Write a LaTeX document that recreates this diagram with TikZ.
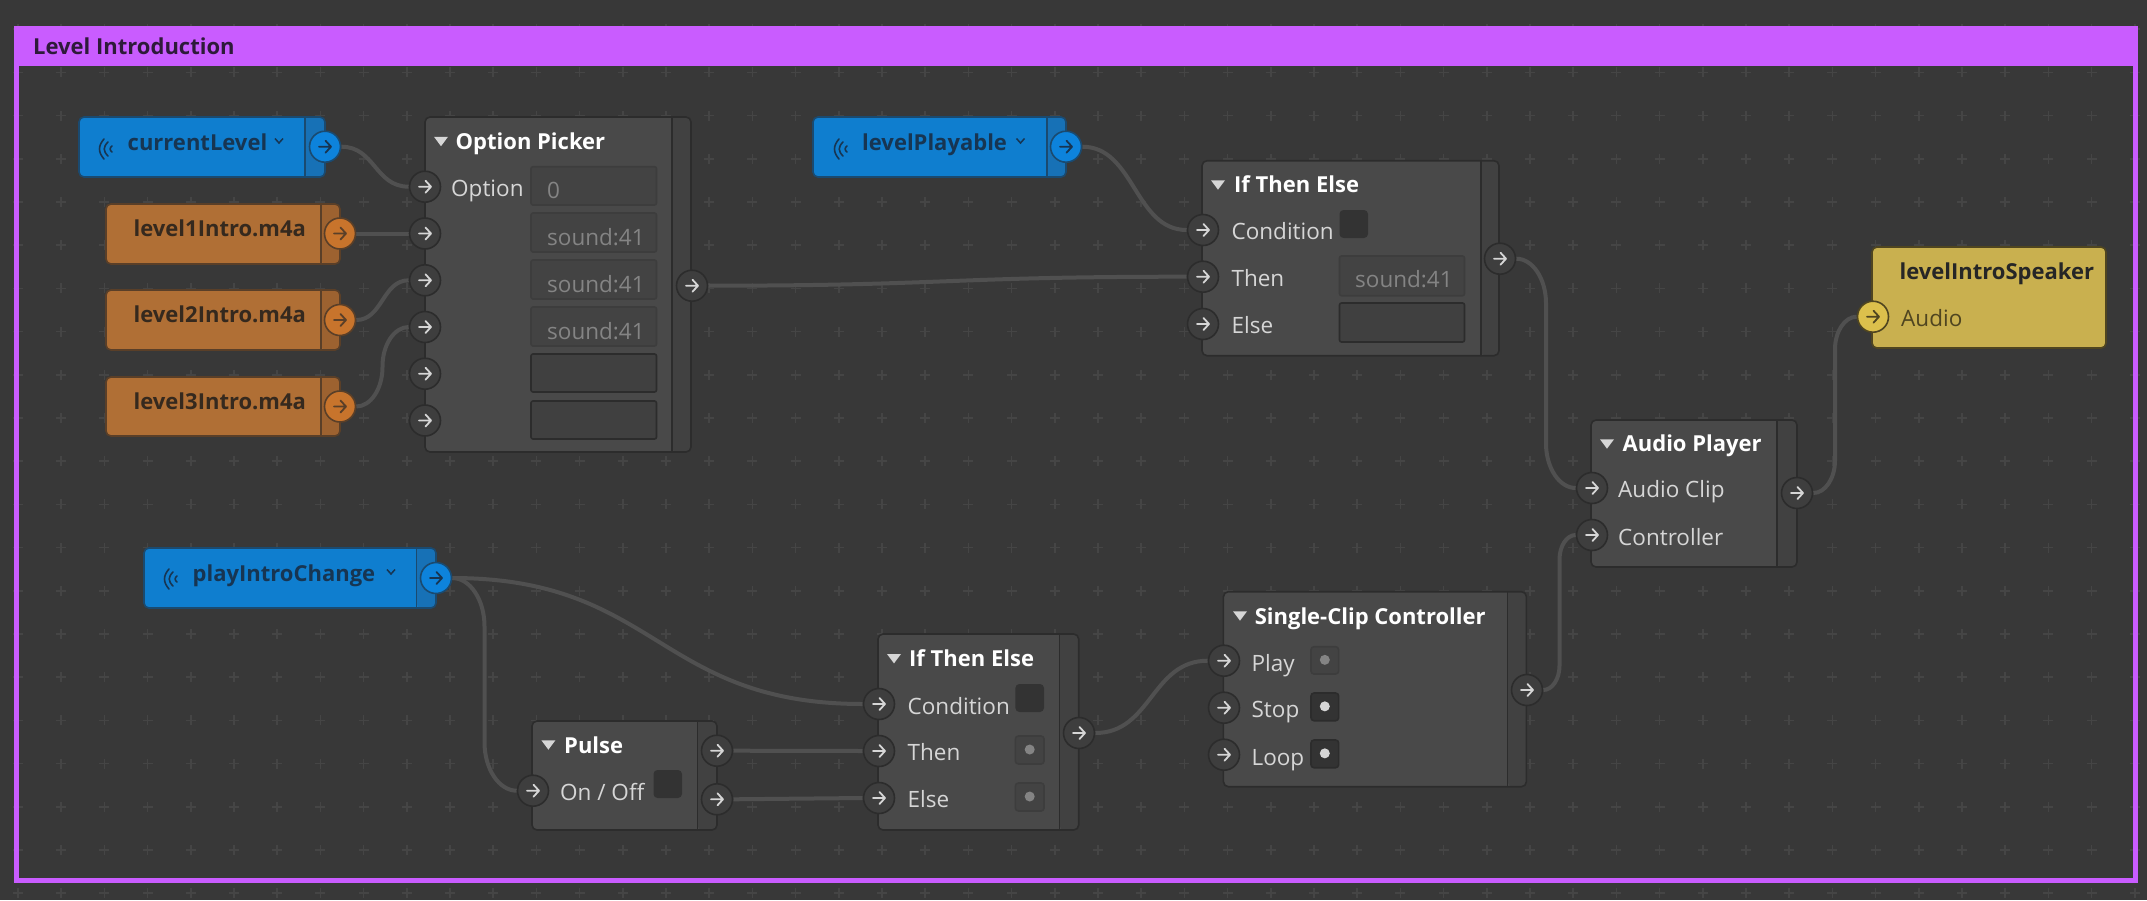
\documentclass[tikz,border=0pt]{standalone}
\usepackage{fontspec}
\setmainfont{Open Sans}
\usetikzlibrary{calc}
\pgfdeclarelayer{gridlayer}
\pgfdeclarelayer{wirelayer}
\pgfsetlayers{gridlayer,wirelayer,main}
\definecolor{bgc}{HTML}{383838}
\definecolor{gridc}{HTML}{454545}
\definecolor{framec}{HTML}{C95CFF}
\definecolor{titlec}{HTML}{2E1A3A}
\definecolor{panelc}{HTML}{494949}
\definecolor{colc}{HTML}{414141}
\definecolor{edgec}{HTML}{2C2C2C}
\definecolor{wirec}{HTML}{505050}
\definecolor{lblc}{HTML}{D6D6D6}
\definecolor{dimtxt}{HTML}{848484}
\definecolor{fielddim}{HTML}{434343}
\definecolor{fieldedge}{HTML}{3D3D3D}
\definecolor{fieldon}{HTML}{404040}
\definecolor{checkon}{HTML}{333333}
\definecolor{bluec}{HTML}{0F7ECF}
\definecolor{bluecol}{HTML}{1771B6}
\definecolor{blueport}{HTML}{0D83DC}
\definecolor{blueedge}{HTML}{1A4A70}
\definecolor{bluetxt}{HTML}{173552}
\definecolor{orangec}{HTML}{B06F35}
\definecolor{orangecol}{HTML}{9D6230}
\definecolor{orangeport}{HTML}{C8742C}
\definecolor{orangeedge}{HTML}{5A3F28}
\definecolor{orangetxt}{HTML}{35291E}
\definecolor{yellowc}{HTML}{C9B04F}
\definecolor{yellowport}{HTML}{DCC04C}
\definecolor{yellowedge}{HTML}{4F4520}
\definecolor{inkc}{HTML}{262626}
\tikzset{
  x=1pt,y=-1pt,
  plusmark/.style={draw=gridc,line width=1.6pt},
  wire/.style={draw=wirec,line width=4pt},
  portg/.style={circle,inner sep=0pt,minimum size=31pt,fill=panelc!85!black,draw=edgec,line width=1.6pt},
  portb/.style={portg,fill=blueport,draw=blueedge},
  porto/.style={portg,fill=orangeport,draw=orangeedge},
  porty/.style={portg,fill=yellowport,draw=yellowedge},
  panelbox/.style={rectangle,inner sep=0pt,outer sep=0pt,rounded corners=5pt,line width=1.6pt},
  headt/.style={anchor=base west,inner sep=0pt,text=white,font=\fontsize{22}{26}\selectfont\bfseries},
  darkt/.style={anchor=base west,inner sep=0pt,text=inkc,font=\fontsize{22}{26}\selectfont\bfseries},
  labelt/.style={anchor=base west,inner sep=0pt,text=lblc,font=\fontsize{22.5}{26}\selectfont},
  dimt/.style={anchor=base west,inner sep=0pt,text=dimtxt,font=\fontsize{22.5}{26}\selectfont},
  fieldoff/.style={rounded corners=2pt,fill=fielddim,draw=fieldedge,line width=1.6pt},
  fieldonn/.style={rounded corners=2pt,fill=fieldon,draw=edgec,line width=1.6pt},
}
\newcount\lblcount
\newcommand{\lab}[4]{\global\advance\lblcount by 1 \node[#1] (lab\the\lblcount) at (#2,#3) {#4};}
% \panel{name}{fill}{col}{edge}{x0}{y0}{x1}{y1}{sep}
\newcommand{\panel}[9]{%
  \node[panelbox,fill=#2,minimum width={(#7-#5)*1pt},minimum height={(#8-#6)*1pt}] (#1) at ({(#5+#7)/2},{(#6+#8)/2}) {};
  \fill[#3,rounded corners=5pt] (#9,#6) -- (#7,#6) -- (#7,#8) -- (#9,#8) [sharp corners] -- cycle;
  \draw[#4,line width=1.4pt] (#9,#6) -- (#9,#8);
  \draw[#4,line width=1.6pt,rounded corners=5pt] (#5,#6) rectangle (#7,#8);
}
% \pnode{name}{style}{x}{y}{arrow colour}
\newcommand{\pnode}[5]{%
  \node[#2] (#1) at (#3,#4) {};
  \draw[#5,line width=1.8pt,line cap=round,line join=round] ($(#1)+(-6,0)$) -- ($(#1)+(6,0)$) ($(#1)+(0.5,-6)$) -- ($(#1)+(6,0)$) -- ($(#1)+(0.5,6)$);
}
% ordinary S-curve between two ports
\newcommand{\wire}[2]{%
  \begin{pgfonlayer}{wirelayer}
  \draw[wire] let \p1=(#1.east),\p2=(#2.west),\n1={(\x1+\x2)/2} in (\p1) .. controls (\n1,\y1) and (\n1,\y2) .. (\p2);
  \end{pgfonlayer}
}
% steep connector: horizontal, soft bend, vertical run, soft bend, horizontal
\newcommand{\wirev}[2]{%
  \begin{pgfonlayer}{wirelayer}
  \draw[wire] let \p1=(#1.east),\p2=(#2.west),\n1={(\x1+\x2)/2},\n3={(\x2-\x1)/2},\n2={(\x2-\x1)*0.75*sign(\y2-\y1)} in
    (\p1) .. controls ({\x1+0.55*\n3},\y1) and (\n1,{\y1+0.45*\n2}) .. ({\n1},{\y1+\n2})
    -- ({\n1},{\y2-\n2}) .. controls (\n1,{\y2-0.45*\n2}) and ({\x2-0.55*\n3},\y2) .. (\p2);
  \end{pgfonlayer}
}
\newcommand{\wifi}[2]{%
  \draw[bluetxt,line width=1.6pt,line cap=round] (#1-2,#2-10) .. controls (#1-8,#2-3) and (#1-8,#2+3) .. (#1-2,#2+10);
  \draw[bluetxt,line width=1.6pt,line cap=round] (#1+2,#2-7) .. controls (#1-3,#2-2) and (#1-3,#2+2) .. (#1+2,#2+7);
  \draw[bluetxt,line width=1.6pt,line cap=round] (#1+6,#2-3) .. controls (#1+3.5,#2-1) and (#1+3.5,#2+1) .. (#1+6,#2+3);
}
\newcommand{\chev}[2]{\draw[bluetxt,line width=1.5pt] (#1-4,#2-2.5) -- (#1,#2+2) -- (#1+4,#2-2.5);}
\newcommand{\tri}[2]{\fill[lblc] (#1-7,#2-4.7) -- (#1+7,#2-4.7) -- (#1,#2+4.7) -- cycle;}
\newcommand{\field}[5]{\path[#1] (#2,#3) rectangle (#4,#5);}
\newcommand{\dotbox}[6]{\path[#1,rounded corners=3pt] (#2,#3) rectangle (#4,#5); \fill[#6] ({(#2+#4)/2},{(#3+#5)/2-0.5}) circle[radius=5pt];}
\begin{document}
\begin{tikzpicture}
\useasboundingbox (0,0) rectangle (2147,900);
\begin{pgfonlayer}{gridlayer}
\fill[bgc] (0,0) rectangle (2147,900);
\foreach \i in {0,...,49}{\foreach \j in {-1,0,...,19}{
  \path[plusmark] ({18+43.2*\i-5},{72.3+43.2*\j}) -- ++(10,0) ({18+43.2*\i},{72.3+43.2*\j-5}) -- ++(0,10);
}}
\end{pgfonlayer}
% frame
\node[rectangle,draw=framec,line width=5.6pt,inner sep=0pt,minimum width=2119pt,minimum height=852pt] (frame) at (1076,454.5) {};
\fill[framec] (14,26) rectangle (2138,65.5);
\lab{darkt,text=titlec}{33}{54}{Level Introduction}

% variable: currentLevel
\panel{curlev}{bluec}{bluecol}{blueedge}{79}{117}{325}{177}{305}
\wifi{106}{149}
\lab{darkt,text=bluetxt}{127.5}{150}{currentLevel}
\chev{279}{141}
\pnode{curlevOut}{portb}{325}{146.7}{bluetxt}
% sounds
\panel{lvA}{orangec}{orangecol}{orangeedge}{106}{204}{340}{264}{321}
\lab{darkt,text=orangetxt}{133.5}{236}{level1Intro.m4a}
\pnode{lvAOut}{porto}{340}{233.5}{orangeedge}
\panel{lvB}{orangec}{orangecol}{orangeedge}{106}{290}{340}{350}{321}
\lab{darkt,text=orangetxt}{133.5}{322}{level2Intro.m4a}
\pnode{lvBOut}{porto}{340}{320}{orangeedge}
\panel{lvC}{orangec}{orangecol}{orangeedge}{106}{377}{340}{436}{321}
\lab{darkt,text=orangetxt}{133.5}{409}{level3Intro.m4a}
\pnode{lvCOut}{porto}{340}{406.5}{orangeedge}

% Option Picker
\panel{opt}{panelc}{colc}{edgec}{425}{117}{691}{452}{672}
\tri{441}{141.5}
\lab{headt}{455.5}{149}{Option Picker}
\lab{labelt}{451}{196.7}{Option}
\field{fieldoff}{531}{166.7}{656.5}{205}
\field{fieldoff}{531}{213}{656.5}{252}
\field{fieldoff}{531}{260}{656.5}{299}
\field{fieldoff}{531}{307}{656.5}{346}
\field{fieldonn}{531}{354}{656.5}{392}
\field{fieldonn}{531}{401}{656.5}{439}
\lab{dimt}{547}{198}{0}
\lab{dimt}{547}{245}{sound:41}
\lab{dimt}{547}{292}{sound:41}
\lab{dimt}{547}{339}{sound:41}
\pnode{optA}{portg}{425}{186.7}{lblc}
\pnode{optB}{portg}{425}{233.5}{lblc}
\pnode{optC}{portg}{425}{280.3}{lblc}
\pnode{optD}{portg}{425}{327}{lblc}
\pnode{optE}{portg}{425}{373.7}{lblc}
\pnode{optF}{portg}{425}{420.5}{lblc}
\pnode{optOut}{portg}{692}{285.7}{lblc}

% levelPlayable
\panel{playable}{bluec}{bluecol}{blueedge}{813}{117}{1066}{177}{1047}
\wifi{841}{149}
\lab{darkt,text=bluetxt}{862}{150}{levelPlayable}
\chev{1020.5}{141}
\pnode{playableOut}{portb}{1066}{146.7}{bluetxt}

% If Then Else (top)
\panel{ifa}{panelc}{colc}{edgec}{1202}{160.7}{1499}{355.7}{1481}
\tri{1218}{185}
\lab{headt}{1234}{192.7}{If Then Else}
\lab{labelt}{1231.4}{239}{Condition}
\lab{labelt}{1231.4}{286.7}{Then}
\lab{labelt}{1231.4}{333}{Else}
\path[fill=checkon,rounded corners=4pt] (1339.5,210) rectangle (1368,238);
\field{fieldoff}{1339.5}{256}{1464.5}{295.7}
\field{fieldonn}{1339.5}{303}{1464.5}{342}
\lab{dimt}{1355}{287}{sound:41}
\pnode{ifaC}{portg}{1203}{230}{lblc}
\pnode{ifaT}{portg}{1203}{276.7}{lblc}
\pnode{ifaE}{portg}{1203}{324}{lblc}
\pnode{ifaOut}{portg}{1500}{258.7}{lblc}

% Audio Player
\panel{player}{panelc}{colc}{edgec}{1591}{420}{1797}{567}{1777}
\tri{1607}{444}
\lab{headt}{1622.5}{451}{Audio Player}
\lab{labelt}{1618}{497.7}{Audio Clip}
\lab{labelt}{1618}{545}{Controller}
\pnode{playerClip}{portg}{1592}{488}{lblc}
\pnode{playerCtl}{portg}{1592}{535}{lblc}
\pnode{playerOut}{portg}{1797}{493}{lblc}

% levelIntroSpeaker
\node[panelbox,fill=yellowc,draw=yellowedge,minimum width=234pt,minimum height=101pt] (speaker) at (1989,297.5) {};
\lab{darkt}{1899.4}{279}{levelIntroSpeaker}
\lab{labelt,text=yellowedge}{1901}{326}{Audio}
\pnode{speakerIn}{porty}{1873}{316.7}{yellowedge}

% playIntroChange
\panel{change}{bluec}{bluecol}{blueedge}{144}{548}{436}{608}{416.6}
\wifi{171}{579}
\lab{darkt,text=bluetxt}{192.5}{581}{playIntroChange}
\chev{391}{572}
\pnode{changeOut}{portb}{436}{578}{bluetxt}

% Pulse
\panel{pulse}{panelc}{colc}{edgec}{532}{721}{717}{830}{697.6}
\tri{548.4}{745}
\lab{headt}{564}{753}{Pulse}
\lab{labelt}{560}{800.7}{On / Off}
\path[fill=checkon,rounded corners=4pt] (653.5,770) rectangle (682,798);
\pnode{pulseIn}{portg}{533}{790.7}{lblc}
\pnode{pulseA}{portg}{717}{750.7}{lblc}
\pnode{pulseB}{portg}{717}{799.3}{lblc}

% If Then Else (bottom)
\panel{ifb}{panelc}{colc}{edgec}{878}{634}{1078.7}{830}{1059.5}
\tri{894}{658.7}
\lab{headt}{909}{666.7}{If Then Else}
\lab{labelt}{907.5}{714}{Condition}
\lab{labelt}{907.5}{760.7}{Then}
\lab{labelt}{907.5}{807}{Else}
\path[fill=checkon,rounded corners=4pt] (1015.4,684) rectangle (1044,712);
\dotbox{fieldoff}{1015.4}{736}{1044}{764}{dimtxt}
\dotbox{fieldoff}{1015.4}{783}{1044}{811}{dimtxt}
\pnode{ifbC}{portg}{879}{704}{lblc}
\pnode{ifbT}{portg}{879}{751}{lblc}
\pnode{ifbE}{portg}{879}{798}{lblc}
\pnode{ifbOut}{portg}{1079}{733}{lblc}

% Single-Clip Controller
\panel{single}{panelc}{colc}{edgec}{1223.4}{591.7}{1526.4}{786.7}{1507.6}
\tri{1240}{616}
\lab{headt}{1254.6}{624}{Single-Clip Controller}
\lab{labelt}{1251.4}{671}{Play}
\lab{labelt}{1251.4}{717.7}{Stop}
\lab{labelt}{1251.4}{765}{Loop}
\dotbox{fieldoff}{1311}{646.7}{1338.6}{674}{dimtxt}
\dotbox{fill=checkon,draw=edgec,line width=1.6pt}{1311}{693}{1338.6}{720.7}{lblc}
\dotbox{fill=checkon,draw=edgec,line width=1.6pt}{1311}{740}{1338.6}{767.7}{lblc}
\pnode{singleP}{portg}{1224}{660.7}{lblc}
\pnode{singleS}{portg}{1224}{707.7}{lblc}
\pnode{singleL}{portg}{1224}{754.7}{lblc}
\pnode{singleOut}{portg}{1527}{690}{lblc}

% connectors
\wire{curlevOut}{optA}
\wire{lvAOut}{optB}
\wire{lvBOut}{optC}
\wirev{lvCOut}{optD}
\wire{optOut}{ifaT}
\wire{playableOut}{ifaC}
\wirev{ifaOut}{playerClip}
\wirev{playerOut}{speakerIn}
\wire{changeOut}{ifbC}
\wirev{changeOut}{pulseIn}
\wire{pulseA}{ifbT}
\wire{pulseB}{ifbE}
\wire{ifbOut}{singleP}
\wirev{singleOut}{playerCtl}
\end{tikzpicture}
\end{document}
